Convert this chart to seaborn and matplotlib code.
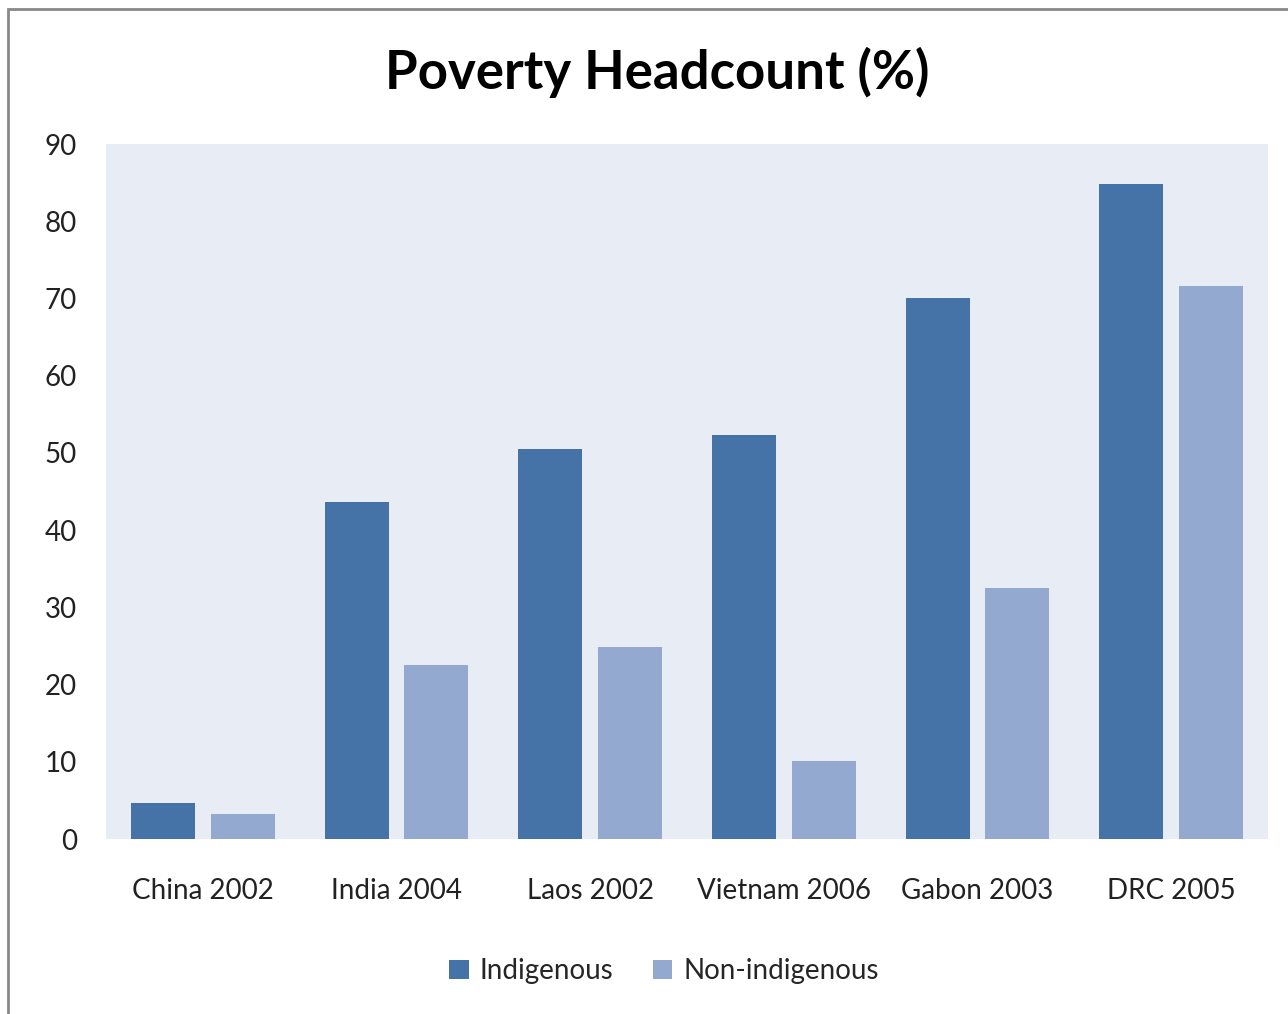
import pandas as pd
import matplotlib.pyplot as plt
import seaborn as sns
from matplotlib.patches import Rectangle

categories = ['China 2002', 'India 2004', 'Laos 2002', 'Vietnam 2006', 'Gabon 2003', 'DRC 2005']
indigenous = [4.7, 43.6, 50.5, 52.3, 70.1, 84.8]
non_indigenous = [3.2, 22.5, 24.9, 10.1, 32.5, 71.6]
series = ['Indigenous', 'Non-indigenous']
colors = ['#4572A7', '#93A9CF']
yticks = [0, 10, 20, 30, 40, 50, 60, 70, 80, 90]

df = pd.DataFrame({
    'category': categories * 2,
    'value': indigenous + non_indigenous,
    'series': [series[0]] * len(categories) + [series[1]] * len(categories),
})

sns.set_style('white')
plt.rcParams['font.family'] = ['Lato', 'DejaVu Sans']

fig = plt.figure(figsize=(12.88, 10.14), dpi=100)
ax = fig.add_axes([106 / 1288, 1 - 839 / 1014, (1268 - 106) / 1288, (839 - 144) / 1014])

sns.barplot(data=df, x='category', y='value', hue='series', palette=colors,
            width=0.826, gap=0.2, saturation=1, ax=ax, legend=True,
            linewidth=0)

ax.set_facecolor('#E8ECF4')
ax.set_ylim(0, 90)
ax.set_xlim(-0.5, len(categories) - 0.5)
ax.set_yticks(yticks)
ax.set_yticklabels([str(t) for t in yticks])
ax.set_xlabel('')
ax.set_ylabel('')
for s in ax.spines.values():
    s.set_visible(False)
ax.tick_params(axis='y', length=0, pad=21, labelsize=20, colors='#222222')
ax.tick_params(axis='x', length=0, pad=28, labelsize=20, colors='#222222')

fig.text(657 / 1288, 1 - 72 / 1014, 'Poverty Headcount (%)', ha='center', va='center',
         fontsize=38, fontweight='bold', color='black')

ax.legend(loc='center', bbox_to_anchor=(664 / 1288, 1 - 971 / 1014),
          bbox_transform=fig.transFigure, ncol=2, frameon=False, fontsize=20,
          handlelength=0.7, handleheight=0.7, handletextpad=0.4, columnspacing=1.4)

fig.patches.append(Rectangle((8 / 1288, -0.05), 1.1, 1 - 9 / 1014 + 0.05,
                             transform=fig.transFigure, fill=False,
                             edgecolor='#888888', linewidth=2))

fig.savefig('out.png', dpi=100)
